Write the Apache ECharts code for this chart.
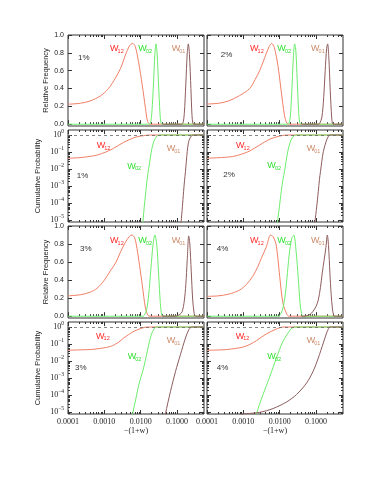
<!DOCTYPE html>
<html><head><meta charset="utf-8">
<script src="https://cdn.jsdelivr.net/npm/echarts@6.0.0/dist/echarts.min.js"></script>
<style>html,body{margin:0;padding:0;background:#fff}#c{width:374px;height:484px}</style>
</head><body><div id="c"></div>
<script>
// ---------- tick labels ----------
const X_TICKS = [0.0001, 0.001, 0.01, 0.1];
const Y_FREQ_TICKS = [0, 0.2, 0.4, 0.6, 0.8, 1.0];
const Y_CUM_TICKS = [1e-5, 1e-4, 1e-3, 1e-2, 1e-1, 1];
const PCT_LABELS = ['1%', '2%', '3%', '4%'];
const SERIES_NAMES = ['W12', 'W02', 'W01'];

// ---------- relative frequency : [-(1+w), freq] ----------
const freq01_W12 = [[0.0001,0.224],[0.00022,0.235],[0.0004,0.26],[0.00078,0.317],[0.0013,0.40],[0.002,0.515],[0.0028,0.627],[0.0038,0.776],[0.0049,0.877],[0.006,0.907],[0.0071,0.87],[0.0087,0.70],[0.011,0.44],[0.0135,0.18],[0.0155,0.03],[0.0186,0],[0.55,0]];
const freq01_W02 = [[0.0001,0],[0.017,0],[0.0186,0.01],[0.0204,0.15],[0.0224,0.45],[0.0245,0.78],[0.0263,0.90],[0.0282,0.80],[0.0309,0.45],[0.0339,0.12],[0.0363,0.01],[0.04,0],[0.55,0]];
const freq01_W01 = [[0.04,0],[0.13,0],[0.1445,0.01],[0.158,0.12],[0.174,0.45],[0.1905,0.80],[0.204,0.90],[0.219,0.78],[0.24,0.40],[0.257,0.10],[0.272,0.01],[0.288,0],[0.55,0]];

const freq02_W12 = [[0.0001,0.226],[0.00022,0.236],[0.0004,0.262],[0.00078,0.32],[0.0015,0.40],[0.0021,0.50],[0.0028,0.60],[0.0043,0.795],[0.0051,0.87],[0.006,0.905],[0.0071,0.86],[0.0089,0.66],[0.011,0.37],[0.0135,0.10],[0.0158,0.01],[0.0186,0],[0.55,0]];
const freq02_W02 = [[0.0001,0],[0.0165,0],[0.018,0.01],[0.0195,0.08],[0.0214,0.35],[0.0235,0.72],[0.0258,0.90],[0.0278,0.82],[0.0302,0.50],[0.0331,0.15],[0.0355,0.02],[0.039,0],[0.55,0]];
const freq02_W01 = [[0.04,0],[0.115,0],[0.126,0.01],[0.1445,0.08],[0.162,0.30],[0.178,0.60],[0.195,0.85],[0.2075,0.90],[0.224,0.75],[0.245,0.38],[0.269,0.07],[0.282,0.01],[0.30,0],[0.55,0]];

const freq03_W12 = [[0.0001,0.225],[0.00022,0.238],[0.0004,0.265],[0.00063,0.31],[0.001,0.40],[0.0015,0.51],[0.0021,0.60],[0.0028,0.715],[0.0038,0.82],[0.0049,0.885],[0.00575,0.90],[0.0068,0.87],[0.0079,0.75],[0.0093,0.56],[0.011,0.35],[0.0135,0.09],[0.0158,0.01],[0.018,0],[0.55,0]];
const freq03_W02 = [[0.0001,0],[0.0115,0],[0.0126,0.01],[0.0145,0.07],[0.0166,0.24],[0.019,0.52],[0.0219,0.80],[0.0245,0.90],[0.0275,0.80],[0.0309,0.48],[0.0347,0.14],[0.038,0.01],[0.042,0],[0.55,0]];
const freq03_W01 = [[0.04,0],[0.09,0],[0.1,0.005],[0.12,0.02],[0.138,0.05],[0.158,0.17],[0.174,0.35],[0.19,0.62],[0.209,0.89],[0.224,0.80],[0.245,0.50],[0.269,0.18],[0.295,0.03],[0.316,0],[0.55,0]];

const freq04_W12 = [[0.0001,0.22],[0.0002,0.225],[0.0004,0.245],[0.00079,0.29],[0.0012,0.35],[0.0018,0.44],[0.0025,0.55],[0.0031,0.64],[0.0043,0.77],[0.0056,0.90],[0.0066,0.88],[0.0078,0.81],[0.0089,0.64],[0.01,0.44],[0.0123,0.14],[0.0158,0.02],[0.0178,0],[0.55,0]];
const freq04_W02 = [[0.0001,0],[0.0095,0],[0.01,0.01],[0.0117,0.06],[0.0138,0.20],[0.0158,0.42],[0.0182,0.68],[0.0214,0.86],[0.0245,0.90],[0.0282,0.72],[0.0324,0.42],[0.0363,0.14],[0.0398,0.03],[0.0437,0],[0.55,0]];
const freq04_W01 = [[0.04,0],[0.045,0],[0.055,0.005],[0.068,0.02],[0.081,0.05],[0.1,0.11],[0.115,0.18],[0.132,0.32],[0.148,0.48],[0.166,0.62],[0.186,0.76],[0.204,0.90],[0.22,0.78],[0.24,0.48],[0.26,0.24],[0.282,0.08],[0.30,0.02],[0.316,0],[0.55,0]];

// ---------- cumulative probability : [-(1+w), P] ----------
const cum01_W12 = [[0.0001,0.043],[0.0002,0.046],[0.0004,0.055],[0.00063,0.066],[0.0011,0.10],[0.0018,0.166],[0.0034,0.37],[0.0065,0.69],[0.0095,0.85],[0.012,0.91],[0.0158,0.99],[0.02,1],[0.55,1]];
const cum01_W02 = [[0.0105,1e-6],[0.0115,7.6e-6],[0.0124,5e-5],[0.0135,3e-4],[0.015,2.5e-3],[0.0166,0.011],[0.0185,0.05],[0.0204,0.166],[0.0226,0.38],[0.0251,0.63],[0.028,0.87],[0.0316,0.98],[0.035,1],[0.55,1]];
const cum01_W01 = [[0.12,1e-6],[0.129,7.6e-6],[0.14,6e-5],[0.151,4.7e-4],[0.16,2e-3],[0.17,6.9e-3],[0.19,0.105],[0.205,0.35],[0.224,0.63],[0.25,0.9],[0.288,1],[0.55,1]];

const cum02_W12 = [[0.0001,0.043],[0.0002,0.046],[0.00051,0.054],[0.0009,0.075],[0.0015,0.115],[0.0028,0.257],[0.0054,0.575],[0.01,0.87],[0.0141,0.98],[0.018,1],[0.55,1]];
const cum02_W02 = [[0.0078,1e-6],[0.0087,7.6e-6],[0.0098,6e-5],[0.011,4.7e-4],[0.0123,2.5e-3],[0.0135,6.9e-3],[0.0166,0.105],[0.0204,0.51],[0.024,0.85],[0.0282,1],[0.55,1]];
const cum02_W01 = [[0.083,1e-6],[0.093,7.6e-6],[0.104,6e-5],[0.115,4.7e-4],[0.124,2.5e-3],[0.132,6.9e-3],[0.158,0.105],[0.195,0.51],[0.22,0.85],[0.24,1],[0.55,1]];

const cum03_W12 = [[0.0001,0.043],[0.0002,0.045],[0.00051,0.049],[0.00148,0.072],[0.0025,0.13],[0.0034,0.224],[0.0065,0.56],[0.011,0.87],[0.013,0.96],[0.0151,1],[0.55,1]];
const cum03_W02 = [[0.0052,1e-6],[0.006,7.6e-6],[0.0073,5.6e-5],[0.0089,4.1e-4],[0.012,3.9e-3],[0.0166,0.091],[0.0204,0.45],[0.0251,0.93],[0.030,1],[0.55,1]];
const cum03_W01 = [[0.042,1e-6],[0.048,7.6e-6],[0.066,1.66e-4],[0.091,2.5e-3],[0.123,0.023],[0.17,0.224],[0.209,0.69],[0.24,0.95],[0.263,1],[0.55,1]];

const cum04_W12 = [[0.0001,0.043],[0.00034,0.047],[0.00098,0.066],[0.0016,0.10],[0.00229,0.158],[0.00427,0.39],[0.0081,0.76],[0.0105,0.92],[0.0123,1],[0.55,1]];
const cum04_W02 = [[0.0019,1e-6],[0.00229,7.6e-6],[0.00347,1.05e-4],[0.00537,1.26e-3],[0.0081,0.015],[0.0123,0.145],[0.0186,0.6],[0.022,0.88],[0.0263,1],[0.55,1]];
const cum04_W01 = [[0.0006,5e-6],[0.001,7.6e-6],[0.0012,7.9e-6],[0.00282,9.5e-6],[0.0066,1.6e-5],[0.0155,3.9e-5],[0.0288,1.05e-4],[0.055,5.1e-4],[0.083,2.5e-3],[0.115,0.015],[0.158,0.115],[0.195,0.45],[0.22,0.8],[0.24,1],[0.55,1]];

// ---------- styling / layout ----------
const LINE_COLORS = ['#f07f66', '#6cec6c', '#8e5c5c'];
const LABEL_COLORS = ['#ff2a2a', '#2ee02e', '#cc8c6c'];
const FRAME = '#333';
const SANS = '"Liberation Sans", Arial, sans-serif';
const SERIF = '"Liberation Serif", "Times New Roman", serif';
const XMIN = 1e-4, XMAX = 0.55;
const YC_MIN = 7.6e-6, YC_MAX = 1.97;
const COL_LEFT = [68, 207];
const ROW_TOP = [35, 130, 226, 322];
const ROW_H = [91, 92, 92, 92];
const PW = 136;

function logMinor(e0, e1) {
  const v = [];
  for (let e = e0; e <= e1; e++) for (let k = 2; k <= 9; k++) v.push(k * Math.pow(10, e));
  return v;
}
const X_MINOR = logMinor(-4, -1);
const Y_CUM_MINOR = logMinor(-6, 0);

const panels = [
  {row:0, col:0, kind:'freq', pct:PCT_LABELS[0], data:[freq01_W12, freq01_W02, freq01_W01]},
  {row:0, col:1, kind:'freq', pct:PCT_LABELS[1], data:[freq02_W12, freq02_W02, freq02_W01]},
  {row:1, col:0, kind:'cum',  pct:PCT_LABELS[0], data:[cum01_W12, cum01_W02, cum01_W01]},
  {row:1, col:1, kind:'cum',  pct:PCT_LABELS[1], data:[cum02_W12, cum02_W02, cum02_W01]},
  {row:2, col:0, kind:'freq', pct:PCT_LABELS[2], data:[freq03_W12, freq03_W02, freq03_W01]},
  {row:2, col:1, kind:'freq', pct:PCT_LABELS[3], data:[freq04_W12, freq04_W02, freq04_W01]},
  {row:3, col:0, kind:'cum',  pct:PCT_LABELS[2], data:[cum03_W12, cum03_W02, cum03_W01]},
  {row:3, col:1, kind:'cum',  pct:PCT_LABELS[3], data:[cum04_W12, cum04_W02, cum04_W01]}
];

// annotation positions (pixels): [W12, W02, W01, pct] as [x, yCenter]
const ANNOT = [
  [[110,49],[138.3,49],[171.7,49],[78,57.5]],
  [[250,49],[277.3,49],[311,49],[220.7,55]],
  [[96.7,146],[127.3,166.7],[166.7,149],[76.7,175.5]],
  [[236,146],[267.3,166],[306.7,149],[223.3,175]],
  [[110,241],[138.3,241],[171.7,241],[80,248.5]],
  [[250,241],[277.3,241],[311,241],[216.7,248.5]],
  [[96,336.3],[127.7,357],[166.7,341],[75,367.5]],
  [[235.7,336.3],[267.3,357],[306.7,341],[216.7,367.5]]
];

const grid = [], xAxis = [], yAxis = [], series = [], graphic = [];
const tickLine = {color: FRAME, width: 1};
const off = {show:false};

panels.forEach((p, g) => {
  grid.push({left: COL_LEFT[p.col], top: ROW_TOP[p.row], width: PW, height: ROW_H[p.row],
    show: true, borderColor: FRAME, borderWidth: 1, backgroundColor: 'transparent', containLabel: false});
  const bottomRow = p.row === 3;
  const xi = xAxis.length;
  const xBase = {type:'log', logBase:10, min:XMIN, max:XMAX, gridIndex:g,
    axisLine:off, splitLine:off, minorTick:off, minorSplitLine:off};
  xAxis.push(Object.assign({}, xBase, {position:'bottom',
    axisTick:{show:true, inside:true, length:4, customValues:X_TICKS, lineStyle:tickLine},
    axisLabel:{show:bottomRow, customValues:X_TICKS, formatter:v => Number(v).toFixed(4), margin:4,
      fontFamily:SERIF, fontSize:8, color:'#222'},
    name: bottomRow ? '\u2212(1+w)' : '', nameLocation:'middle', nameGap:13,
    nameTextStyle:{fontFamily:SERIF, fontSize:8, color:'#222'}}));
  xAxis.push(Object.assign({}, xBase, {position:'bottom',
    axisTick:{show:true, inside:true, length:2, customValues:X_MINOR, lineStyle:tickLine}, axisLabel:off}));
  xAxis.push(Object.assign({}, xBase, {position:'top',
    axisTick:{show:true, inside:true, length:4, customValues:X_TICKS, lineStyle:tickLine}, axisLabel:off}));
  xAxis.push(Object.assign({}, xBase, {position:'top',
    axisTick:{show:true, inside:true, length:2, customValues:X_MINOR, lineStyle:tickLine}, axisLabel:off}));

  const yi = yAxis.length;
  const leftCol = p.col === 0;
  if (p.kind === 'freq') {
    const yBase = {type:'value', min:-0.02, max:1, gridIndex:g, axisLine:off, splitLine:off, minorTick:off, minorSplitLine:off};
    yAxis.push(Object.assign({}, yBase, {position:'left',
      axisTick:{show:true, inside:true, length:4, customValues:Y_FREQ_TICKS, lineStyle:tickLine},
      axisLabel:{show:leftCol, customValues:Y_FREQ_TICKS, formatter:v => Number(v).toFixed(1), margin:4,
        fontFamily:SANS, fontSize:7, color:'#222'},
      name: leftCol ? 'Relative Frequency' : '', nameLocation:'middle', nameGap:17,
      nameTextStyle:{fontFamily:SANS, fontSize:7.5, color:'#222'}}));
    yAxis.push(Object.assign({}, yBase, {position:'right',
      axisTick:{show:true, inside:true, length:4, customValues:Y_FREQ_TICKS, lineStyle:tickLine}, axisLabel:off}));
  } else {
    const yBase = {type:'log', logBase:10, min:YC_MIN, max:YC_MAX, gridIndex:g, axisLine:off, splitLine:off, minorTick:off, minorSplitLine:off};
    yAxis.push(Object.assign({}, yBase, {position:'left',
      axisTick:{show:true, inside:true, length:4, customValues:Y_CUM_TICKS, lineStyle:tickLine},
      axisLabel:{show:leftCol, customValues:Y_CUM_TICKS, margin:4,
        formatter:v => { const e = Math.round(Math.log10(v)); return '{b|10}{s|' + (e < 0 ? '\u2212' : '') + Math.abs(e) + '}'; },
        rich:{b:{fontFamily:SERIF, fontSize:8, color:'#222'}, s:{fontFamily:SERIF, fontSize:5.5, color:'#222', padding:[0,0,6,0]}}},
      name: leftCol ? 'Cumulative Probability' : '', nameLocation:'middle', nameGap:26,
      nameTextStyle:{fontFamily:SANS, fontSize:7.5, color:'#222'}}));
    yAxis.push(Object.assign({}, yBase, {position:'left',
      axisTick:{show:true, inside:true, length:2, customValues:Y_CUM_MINOR, lineStyle:tickLine}, axisLabel:off}));
    yAxis.push(Object.assign({}, yBase, {position:'right',
      axisTick:{show:true, inside:true, length:4, customValues:Y_CUM_TICKS, lineStyle:tickLine}, axisLabel:off}));
    yAxis.push(Object.assign({}, yBase, {position:'right',
      axisTick:{show:true, inside:true, length:2, customValues:Y_CUM_MINOR, lineStyle:tickLine}, axisLabel:off}));
  }

  p.data.forEach((d, k) => {
    const s = {type:'line', name:SERIES_NAMES[k], xAxisIndex:xi, yAxisIndex:yi, data:d,
      showSymbol:false, symbol:'none', smooth:0.3, clip:true, animation:false,
      lineStyle:{color:LINE_COLORS[k], width:1}, z:2 + k};
    if (p.kind === 'cum' && k === 0) {
      s.markLine = {silent:true, symbol:'none', animation:false, label:{show:false},
        lineStyle:{type:[3,3], color:'#666', width:0.8}, data:[{yAxis:1}]};
    }
    series.push(s);
  });

  const a = ANNOT[g];
  for (let k = 0; k < 3; k++) {
    graphic.push({type:'text', x:a[k][0], y:a[k][1], z:50,
      style:{text:'W', fill:LABEL_COLORS[k], font:'9px ' + SANS, align:'left', verticalAlign:'middle'}});
    graphic.push({type:'text', x:a[k][0] + 7.6, y:a[k][1] + 2.2, z:50,
      style:{text:SERIES_NAMES[k].slice(1), fill:LABEL_COLORS[k], font:'5.5px ' + SANS, align:'left', verticalAlign:'middle'}});
  }
  graphic.push({type:'text', x:a[3][0], y:a[3][1], z:50,
    style:{text:p.pct, fill:'#333', font:'8px ' + SANS, align:'left', verticalAlign:'middle'}});
});

const chart = echarts.init(document.getElementById('c'), null, {renderer:'canvas'});
chart.setOption({animation:false, backgroundColor:'#fff', grid, xAxis, yAxis, series, graphic});
</script></body></html>
